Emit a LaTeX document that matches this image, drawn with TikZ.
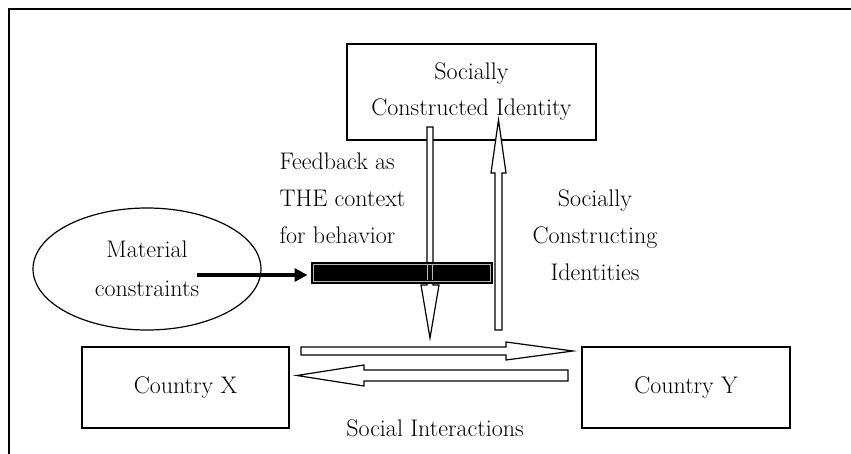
\documentclass[tikz,border=0pt]{standalone}
\usetikzlibrary{shapes.geometric,arrows.meta}
\begin{document}
\begin{tikzpicture}[x=1pt,y=-1pt,line width=1.2pt,
  txt/.style={font=\fontsize{24}{37}\selectfont,inner sep=0pt,align=center},
  box/.style={draw,line width=1.2pt,inner sep=0pt,font=\fontsize{24}{36}\selectfont,align=center},
  hollow/.style={draw,fill=white,line width=1.2pt,line join=miter}]
\useasboundingbox (0,0) rectangle (851,453);
% outer frame (only top and left edges visible)
\draw[line width=1.6pt] (9,470) -- (9,9) -- (870,9);
% top box
\node[box,minimum width=249pt,minimum height=96pt] (top) at (471.5,92) {Socially\\Constructed Identity};
% country boxes
\node[box,minimum width=207pt,minimum height=81pt] (cx) at (185.5,387.5) {Country X};
\node[box,minimum width=208pt,minimum height=81pt] (cy) at (686,387.5) {Country Y};
% ellipse
\node[box,ellipse,minimum width=228pt,minimum height=122pt,font=\fontsize{24}{39}\selectfont] (mat) at (147,269) {Material\\constraints};
% hollow down arrow (feedback)
\draw[hollow] (427,127) -- (433,127) -- (433,285) -- (439,285) -- (430,338) -- (421,285) -- (427,285) -- cycle;
% hollow up arrow (socially constructing)
\draw[hollow] (495,330) -- (495,173) -- (491,173) -- (498.5,120) -- (506,173) -- (502,173) -- (502,330) -- cycle;
% right arrow
\draw[hollow] (301,347) -- (506,347) -- (506,342) -- (573,351) -- (506,360) -- (506,355) -- (301,355) -- cycle;
% left arrow
\draw[hollow] (568,370) -- (364,370) -- (364,365) -- (297,375.5) -- (364,386) -- (364,381) -- (568,381) -- cycle;
% black bar
\node[draw,fill=black,line width=1pt,minimum width=181pt,minimum height=21pt,inner sep=0pt] (bar) at (401.5,272.5) {};
\draw[gray!55,line width=0.6pt] ([shift={(2.5,2.5)}]bar.north west) rectangle ([shift={(-2.5,-2.5)}]bar.south east);
\draw[gray!55,line width=0.6pt] (427.5,265) -- (427.5,280) (432.5,265) -- (432.5,280);
% solid arrow from constraints to bar
\coordinate (ms) at (197,275);
\draw[line width=4pt,-{Triangle[length=13pt,width=13pt]},shorten >=3pt] (ms) -- (ms -| bar.west);
% labels
\node[txt,align=left,anchor=west] (fb) at (279,198) {Feedback as\\THE context\\for behavior};
\node[txt] (sci) at (595,235) {Socially\\Constructing\\Identities};
\node[txt] (si) at (435,428) {Social Interactions};
\end{tikzpicture}
\end{document}
